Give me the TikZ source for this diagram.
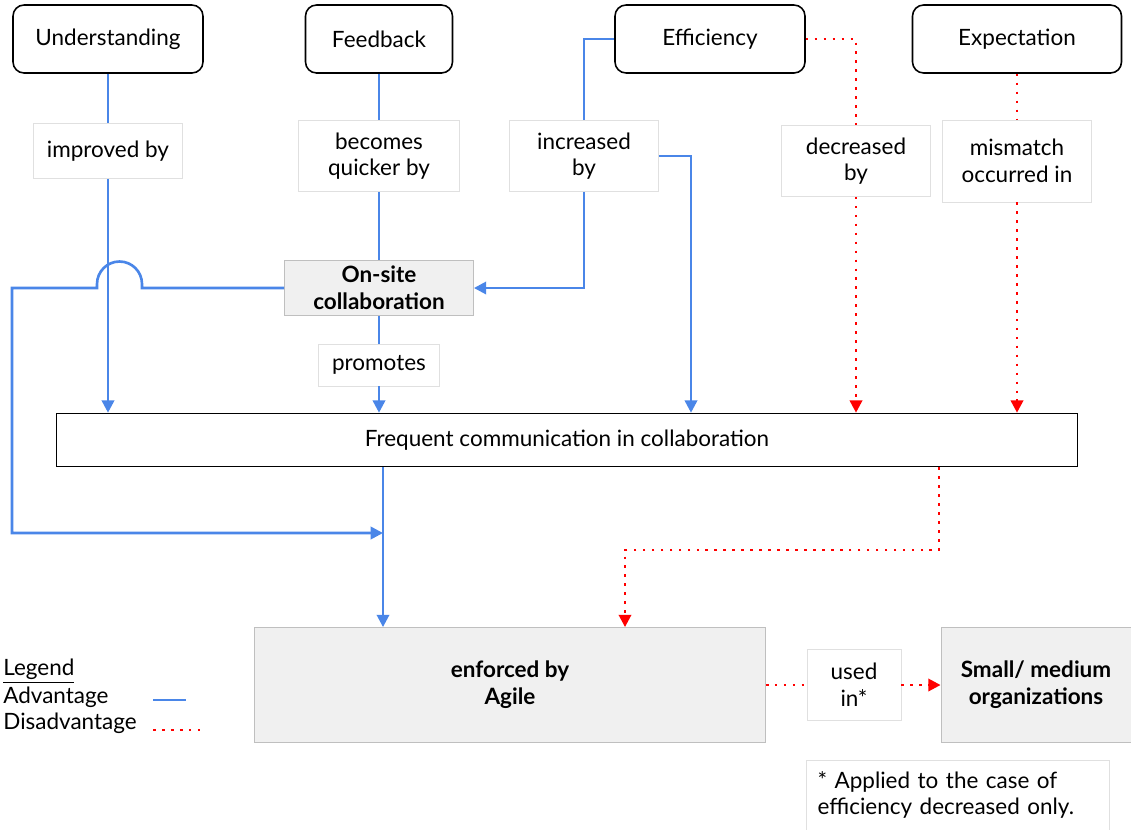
\documentclass[tikz,border=0pt]{standalone}
\usepackage{fontspec}
\setmainfont{Lato}
\usetikzlibrary{arrows.meta}
\definecolor{advblue}{RGB}{74,134,232}
\definecolor{disred}{RGB}{255,0,0}

\begin{document}
\begin{tikzpicture}[x=0.02cm, y=-0.02cm, font=\fontsize{12.8}{15.2}\selectfont]
	\tikzstyle{concept} = [draw, rounded corners=0.22cm, line width=0.9pt, minimum height=1.36cm, align=center]
	\tikzstyle{rel} = [draw=black!12, fill=white, line width=0.4pt, align=center]
	\tikzstyle{grey} = [draw=black!25, fill=black!6, line width=0.5pt, align=center, font=\fontsize{12.8}{15.2}\selectfont\bfseries]
	\tikzstyle{adv} = [advblue, line width=1.5pt, >={Triangle[length=7pt,width=7pt]}]
	\tikzstyle{dis} = [disred, line width=1.5pt, dash pattern=on 1.5pt off 3.6pt, >={Triangle[length=7pt,width=7pt]}]
	\def\toprow{39}

	\useasboundingbox (0,0) rectangle (1131,829);

	\foreach \name/\x/\w/\txt in {understanding/108/3.8/Understanding, feedback/379/2.94/Feedback, efficiency/710/3.8/Efficiency, expectation/1017/4.18/Expectation}
		\node[concept, minimum width=\w cm] (\name) at (\x, \toprow) {\txt};

	%relations
	\foreach \name/\x/\y/\w/\h/\txt in {improved/108/151/2.98/1.1/{improved by}, quicker/379/156/3.22/1.42/{becomes\\quicker by}, increased/584/156/2.98/1.42/{increased\\by}, decreased/856/161/2.98/1.42/{decreased\\by}, mismatch/1017/161/2.98/1.64/{mismatch\\occurred in}, promotes/379/365/2.42/0.84/{promotes}, usedin/854/685/1.88/1.42/{used\\in*}}
		\node[rel, minimum width=\w cm, minimum height=\h cm] (\name) at (\x, \y) {\txt};

	\node[grey, minimum width=3.78cm, minimum height=1.06cm] (onsite) at (379,288) {On-site\\collaboration};
	\node[draw, line width=0.9pt, fill=white, minimum width=20.42cm, minimum height=1.06cm] (freq) at (567,440) {Frequent communication in collaboration};
	\node[grey, minimum width=10.22cm, minimum height=2.3cm] (agile) at (510,685) {enforced by\\Agile};
	\node[grey, minimum width=3.8cm, minimum height=2.3cm] (small) at (1036,685) {Small/ medium\\organizations};
	\node[rel, text width=5.62cm, inner sep=0.22cm, minimum height=1.4cm, align=left] (note) at (958,795) {* Applied to the case of\\efficiency decreased only.};

	%legend
	\node[anchor=west, inner sep=0pt] (legend) at (3,671) {\underline{Legend}};
	\node[anchor=west, inner sep=0pt] (advtxt) at (3,697) {Advantage};
	\node[anchor=west, inner sep=0pt] (distxt) at (3,723) {Disadvantage};
	\draw[adv] (153,700) -- (186,700);
	\draw[dis] (153,730) -- (205,730);

	\coordinate (merge) at (383,533);
	\coordinate (incx) at (691,0);
	\coordinate (r_1) at (939,550);
	\coordinate (r_2) at (625,550);

	%advantages
	\draw[adv] (understanding) -- (improved);
	\draw[adv,->] (improved) -- (improved |- freq.north);
	\draw[adv] (feedback) -- (quicker);
	\draw[adv] (quicker) -- (onsite);
	\draw[adv] (onsite) -- (promotes);
	\draw[adv,->] (promotes) -- (promotes |- freq.north);
	\draw[adv] (efficiency.west) -| (increased.north);
	\draw[adv,->] (increased.south) |- (onsite.east);
	\draw[adv,->] (increased.east) -| (freq.north -| incx);
	\draw[adv,->] (onsite.west) -- (142,288) -- (142,284) arc[start angle=0, end angle=180, radius=0.45cm] -- (97,288) -- (12,288) |- (merge);
	\draw[adv,->] (freq.south -| merge) -- (merge |- agile.north);

	%disadvantages
	\draw[dis] (efficiency.east) -| (decreased.north);
	\draw[dis,->] (decreased) -- (decreased |- freq.north);
	\draw[dis] (expectation) -- (mismatch);
	\draw[dis,->] (mismatch) -- (mismatch |- freq.north);
	\draw[dis,->] (freq.south -| r_1) -- (r_1) -- (r_2) -- (agile.north -| r_2);
	\draw[dis] (agile) -- (usedin);
	\draw[dis,->] (usedin) -- (small);
\end{tikzpicture}
\end{document}
